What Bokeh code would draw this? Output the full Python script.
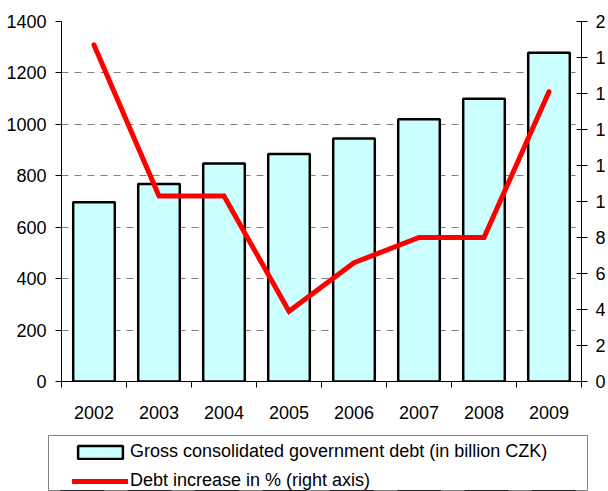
from bokeh.plotting import figure
from bokeh.models import (Range1d, LinearAxis, FixedTicker, Legend, LegendItem,
                          ColumnDataSource)
from bokeh.embed import file_html
from bokeh.resources import INLINE

# ---- data ----
years = [2002, 2003, 2004, 2005, 2006, 2007, 2008, 2009]
debt = [697, 768, 848, 885, 945, 1020, 1100, 1278]
increase = [18.7, 10.3, 10.3, 3.9, 6.6, 8.0, 8.0, 16.1]
left_ticks = [0, 200, 400, 600, 800, 1000, 1200, 1400]
right_ticks = [0, 2, 4, 6, 8, 10, 12, 14, 16, 18, 20]
# right-axis labels as visible in the (clipped) reference
right_tick_labels = ["0", "2", "4", "6", "8", "1", "1", "1", "1", "1", "2"]
bar_label = "Gross consolidated government debt (in billion CZK)"
line_label = "Debt increase in % (right axis)"

FONT = "Liberation Sans"
FS = "18px"
BAR_STYLE = dict(fill_color="#CCFFFF", line_color="black", line_width=2.5)
LINE_STYLE = dict(line_color="#FF0000", line_width=5, line_cap="round",
                  line_join="miter")

src = ColumnDataSource(dict(year=years, debt=debt, inc=increase))

# ---------------- main chart ----------------
p = figure(width=608, height=425, output_backend="svg", toolbar_location=None,
           x_range=Range1d(years[0] - 0.5, years[-1] + 0.5),
           y_range=Range1d(0, 1400),
           min_border_left=61, min_border_right=24, min_border_top=21,
           min_border_bottom=44)
p.extra_y_ranges = {"pct": Range1d(0, 20)}
p.outline_line_color = None
p.background_fill_color = "white"
p.border_fill_color = "white"

bars = p.vbar(x="year", top="debt", width=0.64, source=src, **BAR_STYLE)
line = p.line(x="year", y="inc", source=src, y_range_name="pct", **LINE_STYLE)

# x axis: labels at centres, tick marks at category boundaries
xa = p.xaxis[0]
xa.ticker = FixedTicker(ticks=years,
                        minor_ticks=[y - 0.5 for y in years] + [years[-1] + 0.5])
xa.major_tick_in = 0
xa.major_tick_out = 0
xa.minor_tick_in = 0
xa.minor_tick_out = 6
xa.minor_tick_line_color = "black"
xa.axis_line_color = "black"
xa.major_label_text_font = FONT
xa.major_label_text_font_size = FS
xa.major_label_text_color = "black"
xa.major_label_standoff = 18

ya = p.yaxis[0]
ya.ticker = FixedTicker(ticks=left_ticks)
ya.major_tick_in = 0
ya.major_tick_out = 6
ya.minor_tick_line_color = None
ya.axis_line_color = "black"
ya.major_tick_line_color = "black"
ya.major_label_text_font = FONT
ya.major_label_text_font_size = FS
ya.major_label_text_color = "black"
ya.major_label_standoff = 9

ra = LinearAxis(y_range_name="pct", ticker=FixedTicker(ticks=right_ticks))
ra.major_label_overrides = dict(zip(right_ticks, right_tick_labels))
ra.major_tick_in = 5
ra.major_tick_out = 6
ra.minor_tick_line_color = None
ra.axis_line_color = "black"
ra.major_tick_line_color = "black"
ra.major_label_text_font = FONT
ra.major_label_text_font_size = FS
ra.major_label_text_color = "black"
ra.major_label_standoff = 8
p.add_layout(ra, "right")

p.xgrid.grid_line_color = None
p.ygrid.ticker = FixedTicker(ticks=left_ticks)
p.ygrid.grid_line_color = "#808080"
p.ygrid.grid_line_dash = "7 6"
p.ygrid.grid_line_width = 1

# ---------------- legend strip (separate root) ----------------
# its frame outline forms the legend box; same data and styles,
# with a y range chosen so that only the legend itself shows here
q = figure(width=608, height=66, output_backend="svg", toolbar_location=None,
           x_axis_type=None, y_axis_type=None,
           x_range=p.x_range, y_range=Range1d(5000, 5001),
           min_border_left=48, min_border_right=21, min_border_top=10,
           min_border_bottom=0)
q.outline_line_color = "#808080"
q.outline_line_width = 1
q.xgrid.grid_line_color = None
q.ygrid.grid_line_color = None
q.background_fill_color = "white"
q.border_fill_color = "white"
leg_bar = q.vbar(x="year", top="debt", width=0.64, source=src, **BAR_STYLE)
leg_line = q.line(x="year", y="inc", source=src, **LINE_STYLE)

legend = Legend(items=[LegendItem(label=bar_label, renderers=[leg_bar]),
                       LegendItem(label=line_label, renderers=[leg_line])],
                location=(24, 0))
legend.padding = 0
legend.spacing = 8
legend.glyph_width = 56
legend.glyph_height = 16
legend.label_standoff = 2
legend.label_height = 21
legend.label_text_font = FONT
legend.label_text_font_size = FS
legend.label_text_color = "black"
legend.border_line_color = None
legend.background_fill_alpha = 0.0
legend.margin = 0
q.add_layout(legend, "center")

open("out.html", "w").write(file_html([p, q], INLINE))
